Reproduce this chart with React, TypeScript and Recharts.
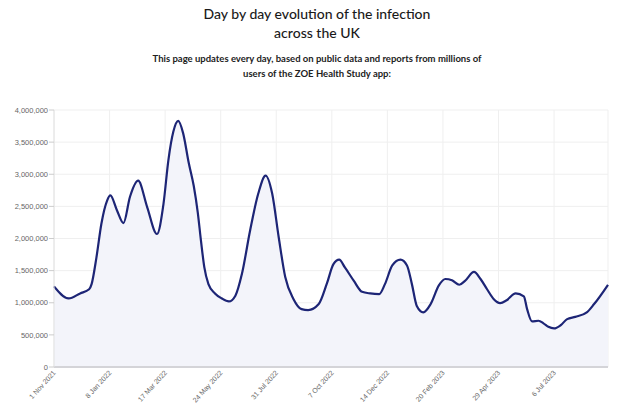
import React from "react";
import { AreaChart, Area, XAxis, YAxis, CartesianGrid } from "recharts";

const tickDays = [0, 68, 136, 204, 272, 340, 408, 476, 544, 612];
const tickLabels = [
  "1 Nov 2021",
  "8 Jan 2022",
  "17 Mar 2022",
  "24 May 2022",
  "31 Jul 2022",
  "7 Oct 2022",
  "14 Dec 2022",
  "20 Feb 2023",
  "29 Apr 2023",
  "6 Jul 2023",
];
const yTicks = [0, 500000, 1000000, 1500000, 2000000, 2500000, 3000000, 3500000, 4000000];

// day offsets from 1 Nov 2021
const days = [
  0, 18, 32, 43, 46, 52, 58, 65, 69, 77,
  85, 93, 103, 114, 126, 134, 140, 146, 152, 158,
  165, 171, 176, 180, 184, 189, 197, 205, 214, 222,
  230, 240, 250, 259, 267, 275, 283, 293, 303, 311,
  324, 334, 342, 349, 356, 367, 377, 387, 398, 405,
  414, 424, 432, 438, 444, 452, 461, 471, 479, 487,
  496, 503, 514, 522, 530, 538, 546, 554, 565, 575,
  579, 585, 593, 599, 605, 612, 620, 628, 638, 652,
  661, 678,
];
const infections = [
  1255000, 1067000, 1145000, 1210000, 1290000, 1710000, 2230000, 2590000, 2670000, 2440000,
  2240000, 2650000, 2900000, 2490000, 2070000, 2540000, 3220000, 3660000, 3830000, 3640000,
  3170000, 2820000, 2400000, 1950000, 1550000, 1290000, 1145000, 1070000, 1020000, 1110000,
  1450000, 2125000, 2700000, 2980000, 2700000, 2020000, 1400000, 1060000, 900000, 885000,
  980000, 1300000, 1600000, 1670000, 1550000, 1340000, 1170000, 1145000, 1135000, 1290000,
  1580000, 1670000, 1580000, 1290000, 950000, 850000, 980000, 1270000, 1370000, 1350000,
  1280000, 1340000, 1480000, 1370000, 1210000, 1060000, 995000, 1040000, 1145000, 1100000,
  900000, 710000, 720000, 680000, 625000, 600000, 650000, 745000, 780000, 850000,
  980000, 1280000,
];

const data = days.map((d, i) => ({ day: d, value: infections[i] }));

const XTick = (props: any) => {
  const { x, y, payload } = props;
  const idx = tickDays.indexOf(payload.value);
  return (
    <g transform={`translate(${x},${y})`}>
      <text
        x={0}
        y={0}
        dy={3}
        textAnchor="end"
        transform="rotate(-48)"
        fontSize={7}
        fill="#666"
        fontFamily="Arial, 'Liberation Sans', sans-serif"
      >
        {idx >= 0 ? tickLabels[idx] : ""}
      </text>
    </g>
  );
};

export default function App() {
  return (
    <div
      style={{
        position: "absolute",
        left: 0,
        top: 0,
        width: 634,
        height: 417,
        background: "#fff",
        overflow: "hidden",
      }}
    >
      <div
        style={{
          position: "absolute",
          top: 4,
          left: 0,
          width: 634,
          textAlign: "center",
          fontFamily: "Lato, 'Noto Sans', sans-serif",
          fontSize: 14,
          lineHeight: "19px",
          fontWeight: 500,
          color: "#1a1a1a",
        }}
      >
        Day by day evolution of the infection
        <br />
        across the UK
      </div>
      <div
        style={{
          position: "absolute",
          top: 51,
          left: 0,
          width: 634,
          textAlign: "center",
          fontFamily: "Lato, 'Noto Sans', sans-serif",
          fontSize: 9.5,
          lineHeight: "15px",
          fontWeight: 700,
          color: "#222",
        }}
      >
        This page updates every day, based on public data and reports from millions of
        <br />
        users of the ZOE Health Study app:
      </div>
      <div style={{ position: "absolute", left: 0, top: 0 }}>
        <AreaChart
          width={634}
          height={417}
          data={data}
          margin={{ top: 110, right: 26, left: 0, bottom: 0 }}
        >
          <CartesianGrid stroke="#efefef" strokeWidth={1} />
          <XAxis
            dataKey="day"
            type="number"
            domain={[0, 678]}
            ticks={tickDays}
            interval={0}
            height={50}
            tickSize={4}
            tickMargin={0}
            tickLine={false}
            axisLine={{ stroke: "#d4d4d8", strokeWidth: 2 }}
            tick={<XTick />}
          />
          <YAxis
            type="number"
            domain={[0, 4000000]}
            ticks={yTicks}
            interval={0}
            width={54}
            tickSize={5}
            tickMargin={1}
            tickLine={{ stroke: "#cccccc" }}
            axisLine={{ stroke: "#e2e2e2" }}
            tick={{ fontSize: 7.5, fill: "#666", fontFamily: "Arial, 'Liberation Sans', sans-serif" }}
            tickFormatter={(v: number) => v.toLocaleString("en-US")}
          />
          <Area
            type="monotone"
            dataKey="value"
            stroke="#1d2576"
            strokeWidth={2.2}
            fill="#f3f4fa"
            fillOpacity={1}
            dot={false}
            activeDot={false}
            isAnimationActive={false}
          />
        </AreaChart>
      </div>
    </div>
  );
}
